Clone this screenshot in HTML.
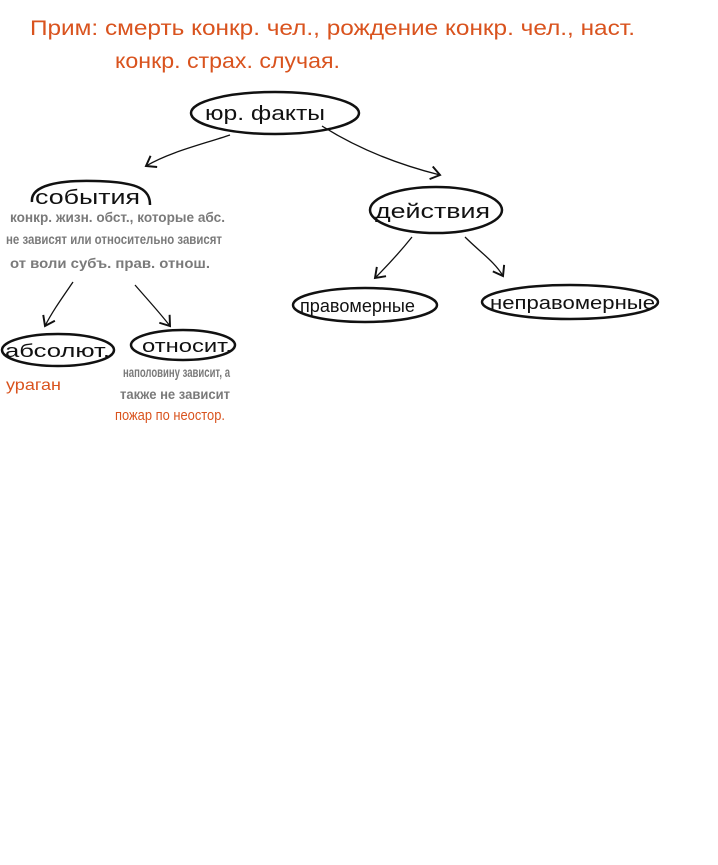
<!DOCTYPE html>
<html><head><meta charset="utf-8"><style>
html,body{margin:0;padding:0;background:#fff;}
svg{display:block}
text{font-family:"Liberation Sans","DejaVu Sans",sans-serif;}
.b{fill:#111;font-size:20px}
.o{fill:#d9531e;font-size:21px}
.g{fill:#7a7a7a;font-size:14px;font-weight:bold}
</style></head><body>
<svg width="718" height="865" viewBox="0 0 718 865" xmlns="http://www.w3.org/2000/svg">
<defs><marker id="a" markerWidth="12" markerHeight="12" refX="8" refY="6" orient="auto"><path d="M1,1 L8,6 L1,11" fill="none" stroke="#111" stroke-width="1.5"/></marker></defs>
<text class="o" x="30" y="35" textLength="605" lengthAdjust="spacingAndGlyphs">Прим: смерть конкр. чел., рождение конкр. чел., наст.</text>
<text class="o" x="115" y="68" textLength="225" lengthAdjust="spacingAndGlyphs">конкр. страх. случая.</text>

<g fill="none" stroke="#111" stroke-width="2.5">
<ellipse cx="275" cy="113" rx="84" ry="21"/>
<path d="M32,202 C30,185 60,180 95,181 C140,182 150,190 150,205"/>
<ellipse cx="436" cy="210" rx="66" ry="23"/>
<ellipse cx="365" cy="305" rx="72" ry="17"/>
<ellipse cx="570" cy="302" rx="88" ry="17"/>
<ellipse cx="58" cy="350" rx="56" ry="16"/>
<ellipse cx="183" cy="345" rx="52" ry="15"/>
</g>
<g fill="none" stroke="#111" stroke-width="1.3" marker-end="url(#a)">
<path d="M230,135 C200,145 170,152 146,166"/>
<path d="M322,126 C360,150 400,165 440,175"/>
<path d="M412,237 C400,252 388,265 375,278"/>
<path d="M465,237 C480,252 495,262 503,276"/>
<path d="M73,282 C62,298 52,312 45,326"/>
<path d="M135,285 C148,300 160,313 170,326"/>
</g>

<text class="b" x="205" y="120" textLength="120" lengthAdjust="spacingAndGlyphs">юр. факты</text>
<text class="b" x="35" y="204" textLength="105" lengthAdjust="spacingAndGlyphs">события</text>
<text class="g" x="10" y="222" textLength="215" lengthAdjust="spacingAndGlyphs">конкр. жизн. обст., которые абс.</text>
<text class="g" x="6" y="244" textLength="216" lengthAdjust="spacingAndGlyphs">не зависят или относительно зависят</text>
<text class="g" x="10" y="268" textLength="200" lengthAdjust="spacingAndGlyphs">от воли субъ. прав. отнош.</text>
<text class="b" x="375" y="218" textLength="115" lengthAdjust="spacingAndGlyphs">действия</text>
<text class="b" x="300" y="312" style="font-size:18px" textLength="115" lengthAdjust="spacingAndGlyphs">правомерные</text>
<text class="b" x="490" y="309" style="font-size:18px" textLength="165" lengthAdjust="spacingAndGlyphs">неправомерные</text>
<text class="b" x="5" y="357" style="font-size:18px" textLength="105" lengthAdjust="spacingAndGlyphs">абсолют.</text>
<text class="b" x="142" y="352" style="font-size:18px" textLength="90" lengthAdjust="spacingAndGlyphs">относит.</text>
<text class="o" x="6" y="390" style="font-size:16px" textLength="55" lengthAdjust="spacingAndGlyphs">ураган</text>
<text class="g" x="123" y="377" textLength="107" lengthAdjust="spacingAndGlyphs">наполовину зависит, а</text>
<text class="g" x="120" y="399" textLength="110" lengthAdjust="spacingAndGlyphs">также не зависит</text>
<text class="o" x="115" y="420" style="font-size:15px" textLength="110" lengthAdjust="spacingAndGlyphs">пожар по неостор.</text>
</svg>
</body></html>
